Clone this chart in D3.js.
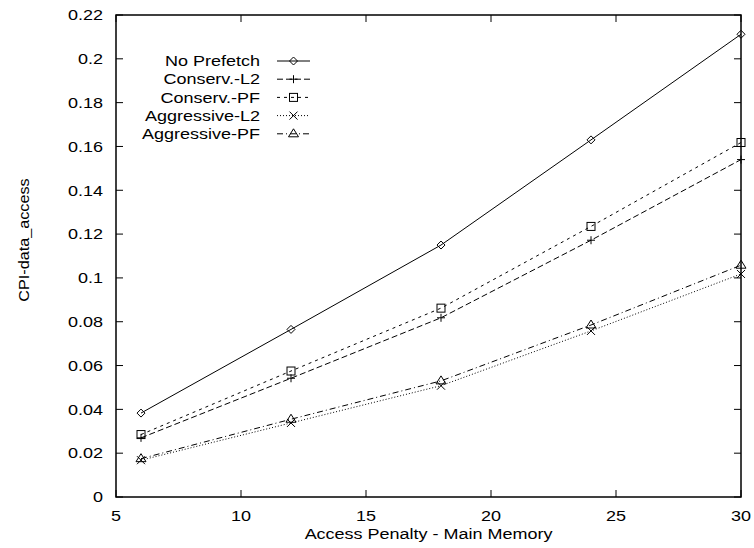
<!DOCTYPE html>
<html><head><meta charset="utf-8">
<script src="https://cdn.jsdelivr.net/npm/d3@7"></script>
<style>body{margin:0;background:#fff}svg{display:block}text{font-family:"Liberation Sans",Arial,sans-serif;fill:#000}</style>
</head><body><svg id="c" width="754" height="548"></svg>
<script>
const xValues = [6, 12, 18, 24, 30];
const seriesNames = ["No Prefetch", "Conserv.-L2", "Conserv.-PF", "Aggressive-L2", "Aggressive-PF"];
const noPrefetch   = [0.0383, 0.0765, 0.1150, 0.1630, 0.2112];
const conservL2    = [0.0270, 0.0542, 0.0818, 0.1172, 0.1540];
const conservPF    = [0.0285, 0.0575, 0.0862, 0.1235, 0.1618];
const aggressiveL2 = [0.0168, 0.0338, 0.0508, 0.0758, 0.1018];
const aggressivePF = [0.0175, 0.0355, 0.0530, 0.0785, 0.1058];
const xTicks = [5, 10, 15, 20, 25, 30];
const yTicks = [0, 0.02, 0.04, 0.06, 0.08, 0.1, 0.12, 0.14, 0.16, 0.18, 0.2, 0.22];
const yTickLabels = ["0", "0.02", "0.04", "0.06", "0.08", "0.1", "0.12", "0.14", "0.16", "0.18", "0.2", "0.22"];
const xTitle = "Access Penalty - Main Memory";
const yTitle = "CPI-data_access";

const seriesValues = [noPrefetch, conservL2, conservPF, aggressiveL2, aggressivePF];
const dashes = [null, "6,3", "3,4", "1,2", "6,3,1,3"];
const markers = ["diamond", "plus", "square", "cross", "triangle"];

const L = 116, R = 741, T = 15, B = 497;
const svg = d3.select("#c");
const x = d3.scaleLinear().domain([5, 30]).range([L, R]);
const y = d3.scaleLinear().domain([0, 0.22]).range([B, T]);
const fs = 15, sx = 1.2;

function label(px, py, txt, anchor, dy) {
  const t = svg.append("text").attr("transform", `translate(${px},${py}) scale(${sx},1)`)
    .attr("text-anchor", anchor).attr("font-size", fs).text(txt);
  if (dy) t.attr("dy", dy);
  return t;
}

const tl = 7;
const g = svg.append("g").attr("stroke", "#000").attr("stroke-width", 1);
xTicks.forEach(t => {
  g.append("line").attr("x1", x(t)).attr("x2", x(t)).attr("y1", B).attr("y2", B - tl);
  g.append("line").attr("x1", x(t)).attr("x2", x(t)).attr("y1", T).attr("y2", T + tl);
});
yTicks.forEach(t => {
  g.append("line").attr("x1", L).attr("x2", L + tl).attr("y1", y(t)).attr("y2", y(t));
  g.append("line").attr("x1", R).attr("x2", R - tl).attr("y1", y(t)).attr("y2", y(t));
});
xTicks.forEach(t => label(x(t), 521, t, "middle"));
yTicks.forEach((t, i) => label(103, y(t), yTickLabels[i], "end", "0.35em"));
label((L + R) / 2, 539, xTitle, "middle");
svg.append("text").attr("transform", "translate(29,240) rotate(-90) scale(1.08,1)").attr("text-anchor", "middle").attr("font-size", fs).text(yTitle);

function marker(sel, type, cx, cy) {
  const s = 4;
  const gg = sel.append("g").attr("fill", "none").attr("stroke", "#000").attr("stroke-width", 1);
  if (type === "diamond") gg.append("path").attr("d", `M${cx},${cy-s}L${cx+s},${cy}L${cx},${cy+s}L${cx-s},${cy}Z`);
  else if (type === "plus") gg.append("path").attr("d", `M${cx-s},${cy}H${cx+s}M${cx},${cy-s}V${cy+s}`);
  else if (type === "square") gg.append("rect").attr("x", cx - s).attr("y", cy - s).attr("width", 2*s).attr("height", 2*s);
  else if (type === "cross") gg.append("path").attr("d", `M${cx-s},${cy-s}L${cx+s},${cy+s}M${cx-s},${cy+s}L${cx+s},${cy-s}`);
  else if (type === "triangle") gg.append("path").attr("d", `M${cx},${cy-s-1}L${cx+s+1},${cy+s-1}L${cx-s-1},${cy+s-1}Z`);
}

const line = d3.line().x(d => x(d[0])).y(d => y(d[1]));
seriesValues.forEach((vals, i) => {
  const pts = xValues.map((xv, j) => [xv, vals[j]]);
  svg.append("path").attr("d", line(pts)).attr("fill", "none").attr("stroke", "#000").attr("stroke-width", 1)
    .attr("stroke-dasharray", dashes[i]);
  pts.forEach(p => marker(svg, markers[i], x(p[0]), y(p[1])));
});

seriesNames.forEach((n, i) => {
  const ly = 61 + i * 18.2;
  label(260, ly, n, "end", "0.35em");
  svg.append("line").attr("x1", 277).attr("x2", 310).attr("y1", ly).attr("y2", ly).attr("stroke", "#000").attr("stroke-width", 1).attr("stroke-dasharray", dashes[i]);
  marker(svg, markers[i], 293.5, ly);
});

svg.append("rect").attr("x", L).attr("y", T).attr("width", R - L).attr("height", B - T).attr("fill", "none").attr("stroke", "#000").attr("stroke-width", 1.5);
</script></body></html>
